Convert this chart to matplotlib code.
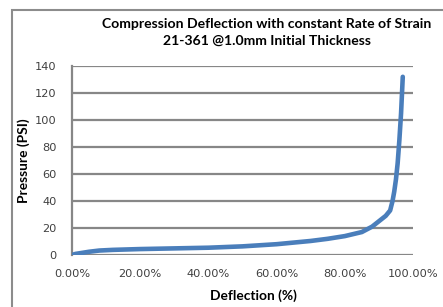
import matplotlib
matplotlib.use('Agg')
import matplotlib.pyplot as plt
from matplotlib.patches import Rectangle
from matplotlib.ticker import FuncFormatter

# deflection (fraction) vs pressure (PSI)
deflection = [0, 0.01, 0.03, 0.05, 0.08, 0.12, 0.20, 0.30, 0.40, 0.50,
              0.60, 0.70, 0.75, 0.80, 0.85, 0.88, 0.90, 0.92, 0.933, 0.94,
              0.945, 0.95, 0.955, 0.96, 0.965, 0.97]
pressure = [0, 0.8, 1.6, 2.4, 3.3, 3.8, 4.4, 4.9, 5.4, 6.4,
            8.0, 10.4, 12.0, 14.0, 17.0, 21.0, 25.0, 29.0, 33.0, 40.0,
            47.0, 56.0, 68.0, 85.0, 105.0, 132.0]
x_ticks = [0, 0.2, 0.4, 0.6, 0.8, 1.0]
y_ticks = [0, 20, 40, 60, 80, 100, 120, 140]

title = "Compression Deflection with constant Rate of Strain\n21-361 @1.0mm Initial Thickness"
grid_col = '#878787'
line_col = '#4a7ebb'
W, H = 443, 307

fig = plt.figure(figsize=(W / 100, H / 100), dpi=100)
fig.patch.set_facecolor('white')

# outer chart border (cut off at right/bottom in the reference)
fig.add_artist(Rectangle((12 / W, -0.2), 1.5, 1 - 10 / H + 0.2,
                         transform=fig.transFigure, fill=False,
                         edgecolor='#8c8c8c', linewidth=1.5, clip_on=False))

ax = fig.add_axes([72 / W, 1 - 255 / H, (413 - 72) / W, (255 - 66) / H])
ax.plot(deflection, pressure, color=line_col, linewidth=3.3,
        solid_capstyle='round', solid_joinstyle='round', zorder=3)

ax.set_xlim(0, 1)
ax.set_ylim(0, 140)
ax.set_xticks(x_ticks)
ax.set_yticks(y_ticks)
ax.xaxis.set_major_formatter(FuncFormatter(lambda v, p: "%.2f%%" % (v * 100)))
ax.grid(axis='y', color=grid_col, linewidth=1.6)
ax.set_axisbelow(True)
for s in ['top', 'right', 'bottom']:
    ax.spines[s].set_visible(False)
ax.spines['left'].set_color(grid_col)
ax.spines['left'].set_linewidth(1.6)
ax.tick_params(axis='both', length=0, labelsize=8.2, labelcolor='#404040')
ax.tick_params(axis='x', pad=10)
ax.tick_params(axis='y', pad=11)

ax.set_xlabel("Deflection (%)", fontsize=9.9, fontweight='bold', family='Lato')
ax.set_ylabel("Pressure (PSI)", fontsize=9.9, fontweight='bold', family='Lato')
ax.xaxis.set_label_coords((253 - 72) / 341, (255 - 289) / 189)
ax.yaxis.set_label_coords((30 - 72) / 341, 0.5)

fig.text(267 / W, 1 - 32 / H, title, ha='center', va='center',
         fontsize=10.1, fontweight='bold', family='Lato', linespacing=1.5)

fig.savefig("out.png", dpi=100)
